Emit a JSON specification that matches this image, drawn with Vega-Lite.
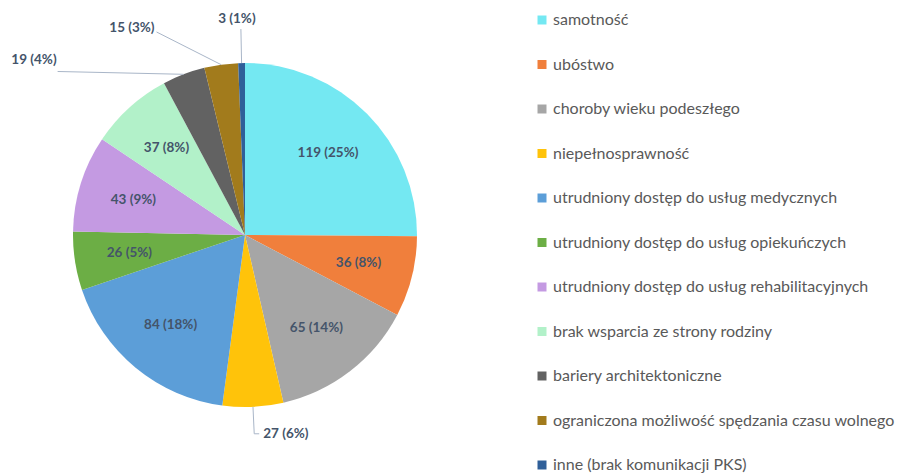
{
  "$schema": "https://vega.github.io/schema/vega-lite/v6.json",
  "width": 490,
  "height": 470,
  "padding": 0,
  "autosize": {"type": "pad"},
  "background": "white",
  "config": {"view": {"stroke": null}, "font": "Lato"},
  "data": {
    "values": [
      {"cat": "samotność", "value": 119},
      {"cat": "ubóstwo", "value": 36},
      {"cat": "choroby wieku podeszłego", "value": 65},
      {"cat": "niepełnosprawność", "value": 27},
      {"cat": "utrudniony dostęp do usług medycznych", "value": 84},
      {"cat": "utrudniony dostęp do usług opiekuńczych", "value": 26},
      {"cat": "utrudniony dostęp do usług rehabilitacyjnych", "value": 43},
      {"cat": "brak wsparcia ze strony rodziny", "value": 37},
      {"cat": "bariery architektoniczne", "value": 19},
      {"cat": "ograniczona możliwość spędzania czasu wolnego", "value": 15},
      {"cat": "inne (brak komunikacji PKS)", "value": 3}
    ]
  },
  "transform": [
    {"window": [{"op": "row_number", "as": "idx"}, {"op": "sum", "field": "value", "as": "cum"}], "frame": [null, 0]},
    {"joinaggregate": [{"op": "sum", "field": "value", "as": "total"}]},
    {"calculate": "2*PI*(datum.cum - datum.value/2)/datum.total", "as": "a"},
    {"calculate": "datum.value + ' (' + round(datum.value/datum.total*100) + '%)'", "as": "label"},
    {"calculate": "172*sin(datum.a)", "as": "sx"},
    {"calculate": "172*cos(datum.a)", "as": "sy"}
  ],
  "layer": [
    {
      "mark": {"type": "arc", "outerRadius": 172, "stroke": null},
      "encoding": {
        "theta": {"field": "value", "type": "quantitative", "stack": true},
        "order": {"field": "idx", "type": "quantitative"},
        "color": {
          "field": "cat",
          "type": "nominal",
          "sort": null,
          "scale": {
            "domain": ["samotność", "ubóstwo", "choroby wieku podeszłego", "niepełnosprawność", "utrudniony dostęp do usług medycznych", "utrudniony dostęp do usług opiekuńczych", "utrudniony dostęp do usług rehabilitacyjnych", "brak wsparcia ze strony rodziny", "bariery architektoniczne", "ograniczona możliwość spędzania czasu wolnego", "inne (brak komunikacji PKS)"],
            "range": ["#74E8F2", "#F07F3C", "#A6A6A6", "#FFC30A", "#5C9ED8", "#6CAE45", "#C49AE2", "#B2F1C9", "#626262", "#A27B1C", "#2F5F99"]
          },
          "legend": {
            "orient": "none",
            "legendX": 534,
            "legendY": 12,
            "title": null,
            "symbolType": "square",
            "symbolSize": 81,
            "symbolStrokeWidth": 0,
            "labelFontSize": 16,
            "labelFont": "Lato",
            "labelColor": "#595959",
            "labelOffset": 3,
            "rowPadding": 28.5,
            "labelLimit": 400
          }
        }
      }
    },
    {
      "transform": [
        {"filter": {"not": {"field": "cat", "oneOf": ["niepełnosprawność", "bariery architektoniczne", "ograniczona możliwość spędzania czasu wolnego", "inne (brak komunikacji PKS)"]}}},
        {"calculate": "117*sin(datum.a)", "as": "tx"},
        {"calculate": "117*cos(datum.a)", "as": "ty"}
      ],
      "mark": {"type": "text", "font": "Lato", "fontSize": 13.5, "fontWeight": "bold", "color": "#44546A", "align": "center", "baseline": "middle"},
      "encoding": {
        "x": {"field": "tx", "type": "quantitative", "scale": {"domain": [-245, 245], "nice": false, "zero": false}, "axis": null},
        "y": {"field": "ty", "type": "quantitative", "scale": {"domain": [-235, 235], "nice": false, "zero": false}, "axis": null},
        "text": {"field": "label"}
      }
    },
    {
      "transform": [
        {"filter": {"field": "cat", "equal": "inne (brak komunikacji PKS)"}},
        {"calculate": "206*sin(datum.a)", "as": "ex"},
        {"calculate": "206*cos(datum.a)", "as": "ey"}
      ],
      "layer": [
        {
          "mark": {"type": "rule", "color": "#A9B6C8", "strokeWidth": 1},
          "encoding": {
            "x": {"field": "sx", "type": "quantitative", "scale": {"domain": [-245, 245], "nice": false, "zero": false}, "axis": null},
            "y": {"field": "sy", "type": "quantitative", "scale": {"domain": [-235, 235], "nice": false, "zero": false}, "axis": null},
            "x2": {"field": "ex"},
            "y2": {"field": "ey"}
          }
        },
        {
          "mark": {"type": "text", "font": "Lato", "fontSize": 13.5, "fontWeight": "bold", "color": "#44546A", "align": "center", "baseline": "middle", "dy": -10, "dx": -4},
          "encoding": {
            "x": {"field": "ex", "type": "quantitative", "scale": {"domain": [-245, 245], "nice": false, "zero": false}, "axis": null},
            "y": {"field": "ey", "type": "quantitative", "scale": {"domain": [-235, 235], "nice": false, "zero": false}, "axis": null},
            "text": {"field": "label"}
          }
        }
      ]
    },
    {
      "transform": [
        {"filter": {"field": "cat", "equal": "ograniczona możliwość spędzania czasu wolnego"}},
        {"calculate": "205*sin(datum.a) - 60", "as": "ex"},
        {"calculate": "205*cos(datum.a)", "as": "ey"}
      ],
      "layer": [
        {
          "mark": {"type": "rule", "color": "#A9B6C8", "strokeWidth": 1},
          "encoding": {
            "x": {"field": "sx", "type": "quantitative", "scale": {"domain": [-245, 245], "nice": false, "zero": false}, "axis": null},
            "y": {"field": "sy", "type": "quantitative", "scale": {"domain": [-235, 235], "nice": false, "zero": false}, "axis": null},
            "x2": {"field": "ex"},
            "y2": {"field": "ey"}
          }
        },
        {
          "mark": {"type": "text", "font": "Lato", "fontSize": 13.5, "fontWeight": "bold", "color": "#44546A", "align": "right", "baseline": "middle", "dx": -2, "dy": -4},
          "encoding": {
            "x": {"field": "ex", "type": "quantitative", "scale": {"domain": [-245, 245], "nice": false, "zero": false}, "axis": null},
            "y": {"field": "ey", "type": "quantitative", "scale": {"domain": [-235, 235], "nice": false, "zero": false}, "axis": null},
            "text": {"field": "label"}
          }
        }
      ]
    },
    {
      "transform": [
        {"filter": {"field": "cat", "equal": "bariery architektoniczne"}},
        {"calculate": "175*sin(datum.a) - 125", "as": "ex"},
        {"calculate": "175*cos(datum.a)", "as": "ey"}
      ],
      "layer": [
        {
          "mark": {"type": "rule", "color": "#A9B6C8", "strokeWidth": 1},
          "encoding": {
            "x": {"field": "sx", "type": "quantitative", "scale": {"domain": [-245, 245], "nice": false, "zero": false}, "axis": null},
            "y": {"field": "sy", "type": "quantitative", "scale": {"domain": [-235, 235], "nice": false, "zero": false}, "axis": null},
            "x2": {"field": "ex"},
            "y2": {"field": "ey"}
          }
        },
        {
          "mark": {"type": "text", "font": "Lato", "fontSize": 13.5, "fontWeight": "bold", "color": "#44546A", "align": "right", "baseline": "middle", "dx": -1, "dy": -11},
          "encoding": {
            "x": {"field": "ex", "type": "quantitative", "scale": {"domain": [-245, 245], "nice": false, "zero": false}, "axis": null},
            "y": {"field": "ey", "type": "quantitative", "scale": {"domain": [-235, 235], "nice": false, "zero": false}, "axis": null},
            "text": {"field": "label"}
          }
        }
      ]
    },
    {
      "transform": [
        {"filter": {"field": "cat", "equal": "niepełnosprawność"}},
        {"calculate": "199*sin(datum.a)", "as": "ex"},
        {"calculate": "199*cos(datum.a)", "as": "ey"},
        {"calculate": "datum.ex + 5", "as": "fx"}
      ],
      "layer": [
        {
          "mark": {"type": "rule", "color": "#A9B6C8", "strokeWidth": 1},
          "encoding": {
            "x": {"field": "sx", "type": "quantitative", "scale": {"domain": [-245, 245], "nice": false, "zero": false}, "axis": null},
            "y": {"field": "sy", "type": "quantitative", "scale": {"domain": [-235, 235], "nice": false, "zero": false}, "axis": null},
            "x2": {"field": "ex"},
            "y2": {"field": "ey"}
          }
        },
        {
          "mark": {"type": "rule", "color": "#A9B6C8", "strokeWidth": 1},
          "encoding": {
            "x": {"field": "ex", "type": "quantitative", "scale": {"domain": [-245, 245], "nice": false, "zero": false}, "axis": null},
            "y": {"field": "ey", "type": "quantitative", "scale": {"domain": [-235, 235], "nice": false, "zero": false}, "axis": null},
            "x2": {"field": "fx"},
            "y2": {"field": "ey"}
          }
        },
        {
          "mark": {"type": "text", "font": "Lato", "fontSize": 13.5, "fontWeight": "bold", "color": "#44546A", "align": "left", "baseline": "middle", "dx": 9},
          "encoding": {
            "x": {"field": "ex", "type": "quantitative", "scale": {"domain": [-245, 245], "nice": false, "zero": false}, "axis": null},
            "y": {"field": "ey", "type": "quantitative", "scale": {"domain": [-235, 235], "nice": false, "zero": false}, "axis": null},
            "text": {"field": "label"}
          }
        }
      ]
    }
  ]
}
